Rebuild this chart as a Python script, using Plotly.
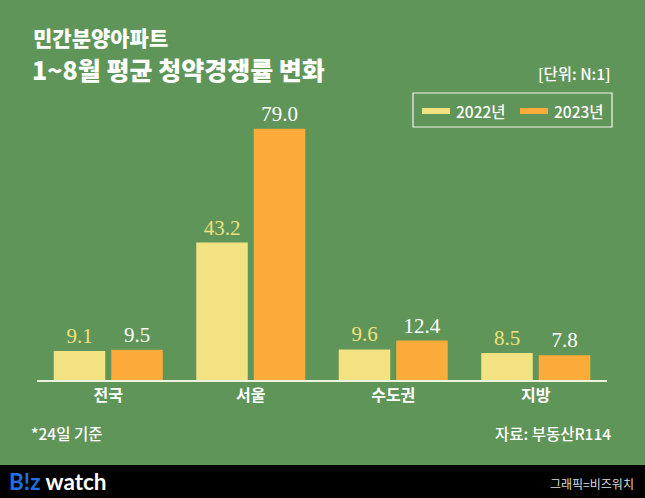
import plotly.graph_objects as go

categories = ["전국", "서울", "수도권", "지방"]
values_2022 = [9.1, 43.2, 9.6, 8.5]
values_2023 = [9.5, 79.0, 12.4, 7.8]
series_names = ["2022년", "2023년"]

BG = "#5f9558"
C22 = "#f3e282"
C23 = "#fbab3a"
T22 = "#f1e07c"
KR = "Noto Sans CJK KR"
SERIF = "Liberation Serif"

W, H = 645, 498

fig = go.Figure()
fig.add_trace(go.Bar(
    x=categories, y=values_2022, name=series_names[0],
    marker=dict(color=C22, line=dict(width=0)),
    text=[f"{v:.1f}" for v in values_2022], textposition="outside",
    textfont=dict(family=SERIF, size=21, color=T22), cliponaxis=False,
))
fig.add_trace(go.Bar(
    x=categories, y=values_2023, name=series_names[1],
    marker=dict(color=C23, line=dict(width=0)),
    text=[f"{v:.1f}" for v in values_2023], textposition="outside",
    textfont=dict(family=SERIF, size=21, color="white"), cliponaxis=False,
))

def px(x):
    return x / W

def py(y):
    return 1 - y / H

shapes = [
    # bottom black band
    dict(type="rect", xref="paper", yref="paper", x0=0, x1=1, y0=0, y1=py(465),
         fillcolor="black", line=dict(width=0), layer="below"),
    # legend box
    dict(type="rect", xref="paper", yref="paper", x0=px(413), x1=px(612), y0=py(127), y1=py(93),
         fillcolor="rgba(0,0,0,0)", line=dict(color="#f4f4ec", width=1.2)),
    dict(type="rect", xref="paper", yref="paper", x0=px(422), x1=px(450), y0=py(114), y1=py(108),
         fillcolor=C22, line=dict(width=0)),
    dict(type="rect", xref="paper", yref="paper", x0=px(520), x1=px(548), y0=py(114), y1=py(108),
         fillcolor=C23, line=dict(width=0)),
]

annotations = [
    dict(text="민간분양아파트", x=px(31), y=py(37), xanchor="left", yanchor="middle",
         font=dict(family=KR, size=21, color="white", weight=900)),
    dict(text="1~8월 평균 청약경쟁률 변화", x=px(30), y=py(69), xanchor="left", yanchor="middle",
         font=dict(family=KR, size=25, color="white", weight=900)),
    dict(text="[단위: N:1]", x=px(613), y=py(73), xanchor="right", yanchor="middle",
         font=dict(family=KR, size=15.5, color="white", weight=500)),
    dict(text=series_names[0], x=px(454), y=py(111), xanchor="left", yanchor="middle",
         font=dict(family=KR, size=15.5, color="white", weight=500)),
    dict(text=series_names[1], x=px(552), y=py(111), xanchor="left", yanchor="middle",
         font=dict(family=KR, size=15.5, color="white", weight=500)),
    dict(text="*24일 기준", x=px(29), y=py(433), xanchor="left", yanchor="middle",
         font=dict(family=KR, size=15.5, color="white", weight=500)),
    dict(text="자료: 부동산R114", x=px(613), y=py(433), xanchor="right", yanchor="middle",
         font=dict(family=KR, size=15.5, color="white", weight=500)),
    dict(text="<b><span style='color:#1f6fe6'>B!z</span> watch</b>", x=px(7), y=py(481),
         xanchor="left", yanchor="middle",
         font=dict(family="Lato", size=22.5, color="white")),
    dict(text="그래픽=비즈워치", x=px(636), y=py(483), xanchor="right", yanchor="middle",
         font=dict(family=KR, size=12, color="#dcdcdc")),
]
for a in annotations:
    a.update(xref="paper", yref="paper", showarrow=False)

fig.update_layout(
    width=W, height=H,
    margin=dict(l=0, r=0, t=0, b=0),
    paper_bgcolor=BG, plot_bgcolor=BG,
    barmode="group", bargap=0.193, bargroupgap=0.104,
    showlegend=False,
    shapes=shapes, annotations=annotations,
    xaxis=dict(domain=[37 / W, 607 / W], showline=True, linecolor="#eef3dc", linewidth=2,
               ticks="", showgrid=False, zeroline=False, fixedrange=True,
               tickfont=dict(family=KR, size=16, color="white", weight="bold")),
    yaxis=dict(domain=[118 / H, 398 / H], range=[0, 88], visible=False, showgrid=False,
               zeroline=False, fixedrange=True),
)

fig.write_html("out.html")
